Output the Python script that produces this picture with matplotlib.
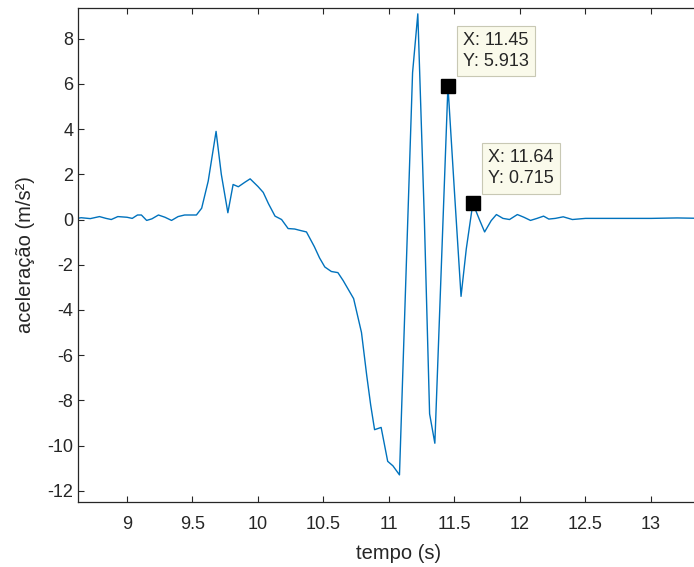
import numpy as np
import matplotlib.pyplot as plt

plt.rcParams['font.family'] = ['Liberation Sans', 'DejaVu Sans']
plt.rcParams['axes.unicode_minus'] = False

# tempo (s) e aceleração (m/s²)
tempo = [8.62, 8.65, 8.72, 8.79, 8.84, 8.88, 8.93, 9.00, 9.04, 9.08, 9.11,
         9.15, 9.19, 9.24, 9.29, 9.34, 9.39, 9.44, 9.48, 9.53, 9.57, 9.62,
         9.68, 9.72, 9.77, 9.81, 9.85, 9.90, 9.94, 10.00, 10.04, 10.08,
         10.13, 10.18, 10.23, 10.28, 10.32, 10.37, 10.43, 10.47, 10.51,
         10.56, 10.61, 10.65, 10.69, 10.73, 10.79, 10.83, 10.86, 10.89,
         10.94, 10.99, 11.03, 11.08, 11.13, 11.18, 11.22, 11.27, 11.31,
         11.35, 11.40, 11.45, 11.50, 11.55, 11.59, 11.64, 11.69, 11.73,
         11.78, 11.82, 11.87, 11.92, 11.98, 12.03, 12.08, 12.13, 12.18,
         12.22, 12.27, 12.33, 12.40, 12.50, 12.60, 12.80, 13.00, 13.20,
         13.40, 13.60]
acel = [0.05, 0.08, 0.04, 0.13, 0.05, 0.0, 0.13, 0.1, 0.05, 0.2, 0.2,
        -0.04, 0.03, 0.2, 0.1, -0.04, 0.13, 0.2, 0.2, 0.2, 0.5, 1.7,
        3.9, 2.0, 0.3, 1.55, 1.45, 1.65, 1.8, 1.46, 1.2, 0.7,
        0.15, 0.0, -0.4, -0.42, -0.48, -0.55, -1.2, -1.7, -2.1,
        -2.3, -2.35, -2.7, -3.1, -3.5, -5.0, -6.9, -8.2, -9.3,
        -9.2, -10.7, -10.9, -11.3, -2.4, 6.5, 9.1, 0.0, -8.6,
        -9.9, -2.0, 5.913, 1.2, -3.4, -1.3, 0.715, 0.0, -0.55,
        -0.05, 0.22, 0.05, 0.0, 0.22, 0.1, -0.04, 0.05, 0.15,
        0.02, 0.05, 0.12, 0.0, 0.05, 0.05, 0.05, 0.05, 0.07,
        0.05, 0.05]

# pontos marcados (datatips)
tip_x = [11.45, 11.64]
tip_y = [5.913, 0.715]

cor = '#262626'

fig = plt.figure(figsize=(6.94, 5.67), dpi=100)
ax = fig.add_axes([78 / 694, 65 / 567, (720 - 78) / 694, 494 / 567])

ax.plot(tempo, acel, color='#0072BD', lw=1.0)

ax.set_xlim(8.626, 8.626 + 642 / 131.0)
ax.set_ylim(-12.5, 9.36)
ax.set_xticks([9, 9.5, 10, 10.5, 11, 11.5, 12, 12.5, 13])
ax.set_xticklabels(['9', '9.5', '10', '10.5', '11', '11.5', '12', '12.5', '13'])
ax.set_yticks(np.arange(-12, 9, 2))

ax.tick_params(direction='in', length=4, width=0.8, colors=cor, labelsize=13,
               top=True, right=True)
ax.tick_params(axis='x', pad=10)
for s in ax.spines.values():
    s.set_color(cor)
    s.set_linewidth(0.9)

ax.set_xlabel('tempo (s)', fontsize=14.5, color=cor, labelpad=8)
ax.set_ylabel('aceleração (m/s²)', fontsize=14.5, color=cor, labelpad=9)

ax.plot(tip_x, tip_y, 's', color='black', ms=9.5, zorder=5)
for x, y in zip(tip_x, tip_y):
    ax.annotate(f'X: {x:.4g}\nY: {y:.4g}', xy=(x, y),
                xytext=(15, 16), textcoords='offset pixels',
                ha='left', va='bottom', fontsize=13, color=cor,
                linespacing=1.3,
                bbox=dict(boxstyle='square,pad=0.35', fc='#FAFAEB',
                          ec='#C8C8B4', lw=0.8), zorder=6)

fig.savefig('out.png', dpi=100)
